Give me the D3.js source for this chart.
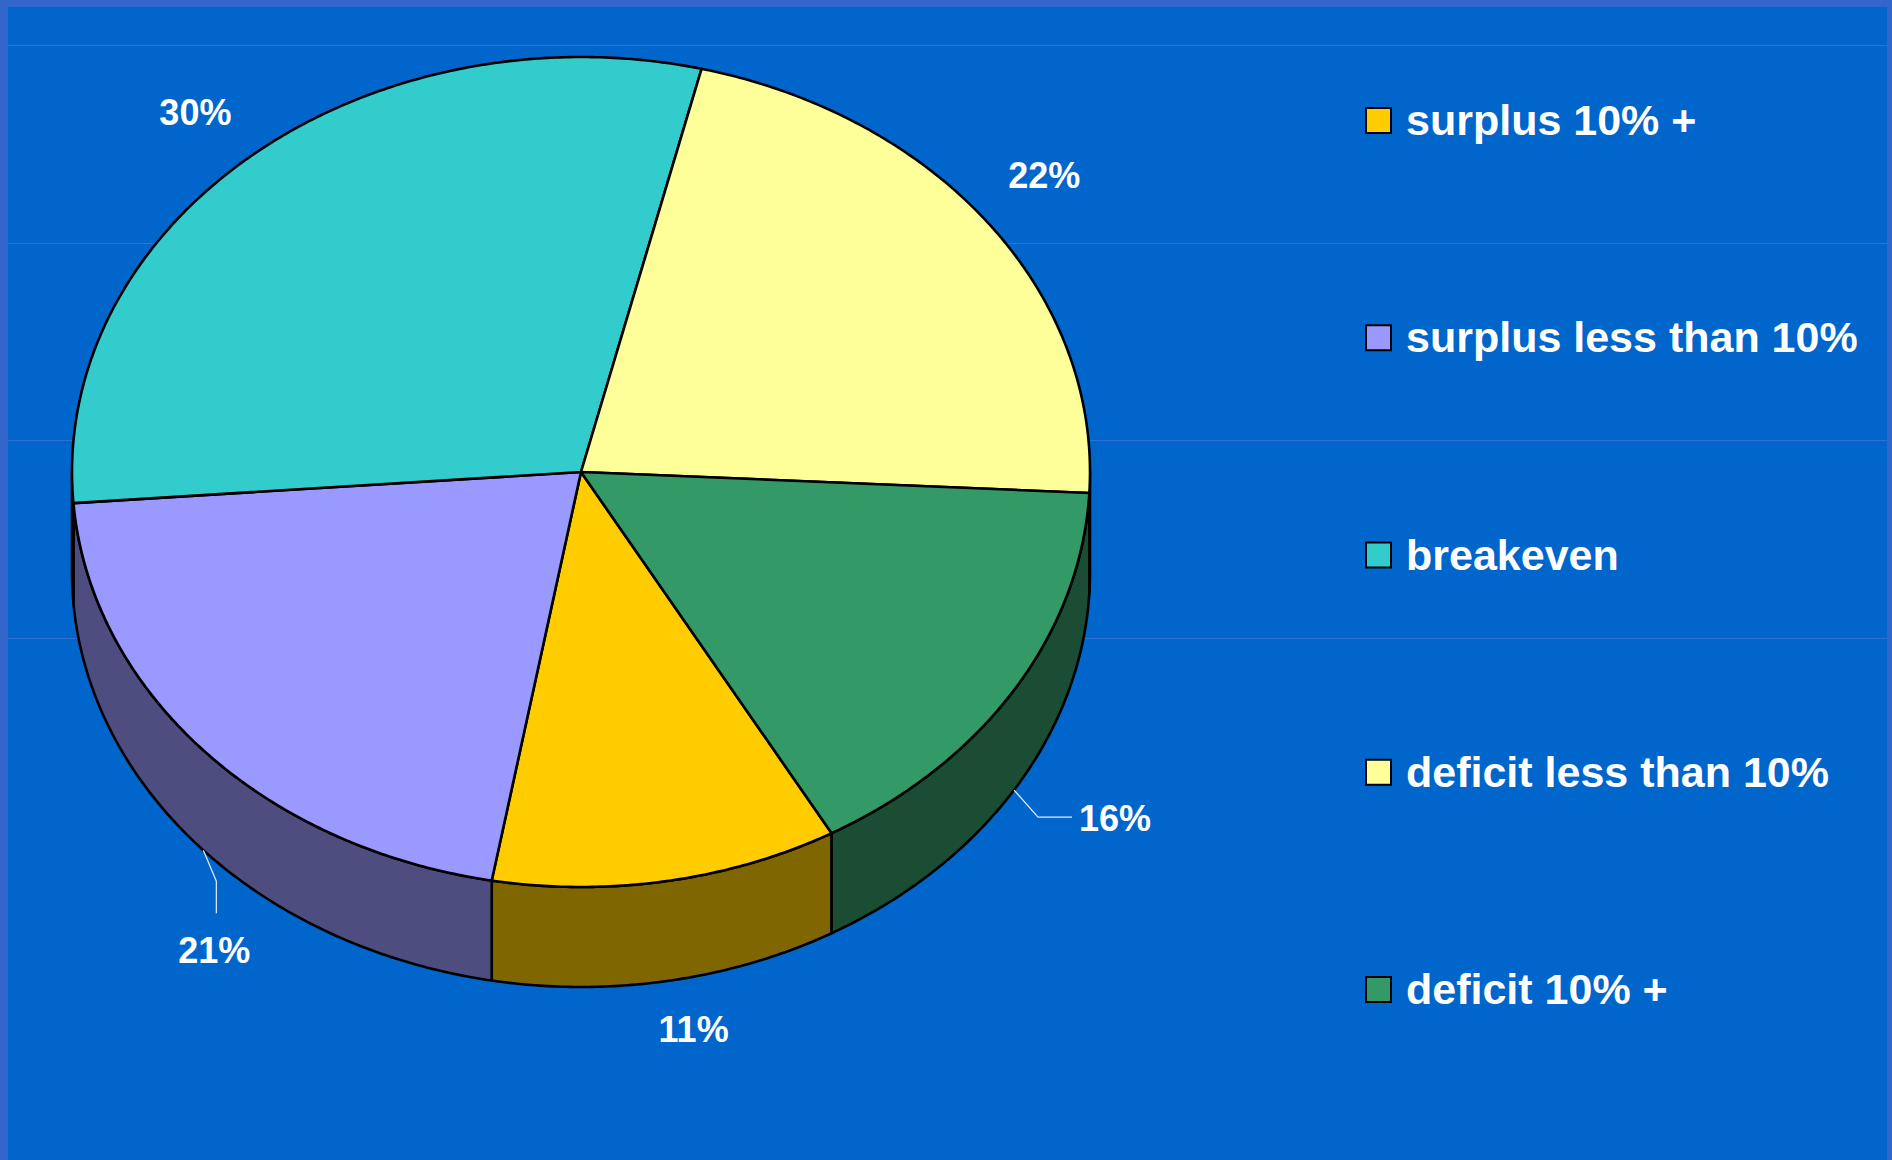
<!DOCTYPE html>
<html>
<head>
<meta charset="utf-8">
<script src="https://cdn.jsdelivr.net/npm/d3@7"></script>
<style>
  html, body { margin: 0; padding: 0; background: #0066CC; }
  svg { display: block; }
</style>
</head>
<body>
<svg id="chart" width="1892" height="1160"></svg>
<script>
// ---- data ----
const categories = ["surplus 10% +", "surplus less than 10%", "breakeven", "deficit less than 10%", "deficit 10% +"];
const shares = [11, 21, 30, 22, 16];
const sliceColors = ["#FFCC00", "#9999FF", "#33CCCC", "#FFFF99", "#339966"];

// ---- layout ----
const W = 1892, H = 1160;
const FONT = "'Liberation Sans', Arial, Helvetica, sans-serif";
const cx = 581, cy = 472, rx = 509, ry = 415, depth = 100;
const startDeg = 150.5;
const labelK = 1.15;
const edgeWidth = 2.6;
// small hand placements for the value labels (pixels)
const labelNudge = [[14, -13], [0, 0], [-7, 4], [-6, -11], [0, 0]];
// labels pulled out with leader lines: elbow offset from rim, then run to the text
const leaders = {
  1: { elbow: [13, 31], run: [0, 32], text: [-2, 37], anchor: "middle" },
  4: { elbow: [24, 27], run: [34, 0], text: [7, 1], anchor: "start" }
};

const svg = d3.select("#chart");

// slide frame and background
svg.append("rect").attr("width", W).attr("height", H).attr("fill", "#3366CC");
svg.append("rect").attr("x", 8).attr("y", 7).attr("width", W - 13).attr("height", H - 7).attr("fill", "#0066CC");

// faint horizontal rules behind the chart
const ruleY = d3.scaleLinear().domain([0, 3]).range([45, 638]);
svg.append("g").selectAll("line").data(d3.range(4)).join("line")
  .attr("x1", 8).attr("x2", W - 5)
  .attr("y1", d => Math.round(ruleY(d)) + 0.5).attr("y2", d => Math.round(ruleY(d)) + 0.5)
  .attr("stroke", "#3270D4").attr("stroke-width", 1);

// ---- pie ----
const start = startDeg * Math.PI / 180;
const pie = d3.pie().sort(null).value(d => d).startAngle(start).endAngle(start + 2 * Math.PI);
const arcs = pie(shares);

const px = a => cx + rx * Math.sin(a);
const py = a => cy - ry * Math.cos(a);
function arcPts(a0, a1, dy = 0) {
  const n = Math.max(2, Math.ceil(Math.abs(a1 - a0) / (Math.PI / 360)));
  return d3.range(n + 1).map(i => {
    const a = a0 + (a1 - a0) * i / n;
    return [px(a), py(a) + dy];
  });
}
const line = d3.line().curve(d3.curveLinear);
const shade = c => { const r = d3.rgb(c); return d3.rgb(r.r * 0.5, r.g * 0.5, r.b * 0.5).formatHex(); };

// side walls: only the front half (90°..270°) faces the viewer
const PI = Math.PI;
const fronts = [[PI / 2, 3 * PI / 2], [5 * PI / 2, 7 * PI / 2]];
const sides = [];
arcs.forEach((d, i) => {
  fronts.forEach(([f0, f1]) => {
    const b0 = Math.max(d.startAngle, f0), b1 = Math.min(d.endAngle, f1);
    if (b1 > b0) sides.push({ i, b0, b1 });
  });
});
const gSide = svg.append("g");
gSide.selectAll("path").data(sides).join("path")
  .attr("d", s => line(arcPts(s.b0, s.b1).concat(arcPts(s.b1, s.b0, depth))) + "Z")
  .attr("fill", s => shade(sliceColors[s.i]))
  .attr("stroke", "#000").attr("stroke-width", edgeWidth).attr("stroke-linejoin", "round");

// top faces
const gTop = svg.append("g");
gTop.selectAll("path").data(arcs).join("path")
  .attr("d", d => line([[cx, cy]].concat(arcPts(d.startAngle, d.endAngle))) + "Z")
  .attr("fill", (d, i) => sliceColors[i])
  .attr("stroke", "#000").attr("stroke-width", edgeWidth).attr("stroke-linejoin", "round");

// ---- value labels ----
const gLab = svg.append("g");
arcs.forEach((d, i) => {
  const mid = (d.startAngle + d.endAngle) / 2;
  const front = Math.cos(mid) < 0;
  const txt = shares[i] + "%";
  if (leaders[i]) {
    const L = leaders[i];
    const s = [px(mid), py(mid) + depth];
    const e = [s[0] + L.elbow[0], s[1] + L.elbow[1]];
    const r = [e[0] + L.run[0], e[1] + L.run[1]];
    gLab.append("path").attr("d", line([s, e, r]))
      .attr("fill", "none").attr("stroke", "#E6ECF8").attr("stroke-width", 1.2);
    gLab.append("text")
      .attr("x", r[0] + L.text[0]).attr("y", r[1] + L.text[1])
      .attr("text-anchor", L.anchor).attr("dominant-baseline", "central")
      .attr("font-family", FONT).attr("font-weight", "bold").attr("font-size", 36)
      .attr("fill", "#fff").text(txt);
  } else {
    const x = cx + rx * labelK * Math.sin(mid) + labelNudge[i][0];
    const y = cy - ry * labelK * Math.cos(mid) + (front ? depth : 0) + labelNudge[i][1];
    gLab.append("text")
      .attr("x", x).attr("y", y)
      .attr("text-anchor", "middle").attr("dominant-baseline", "central")
      .attr("font-family", FONT).attr("font-weight", "bold").attr("font-size", 36)
      .attr("fill", "#fff").text(txt);
  }
});

// ---- legend ----
const rowY = d3.scalePoint().domain(categories).range([121, 990]);
const gLeg = svg.append("g");
const rows = gLeg.selectAll("g").data(categories).join("g")
  .attr("transform", d => `translate(0,${rowY(d)})`);
rows.append("rect")
  .attr("x", 1366).attr("y", -13).attr("width", 25).attr("height", 25)
  .attr("fill", (d, i) => sliceColors[i])
  .attr("stroke", "#000").attr("stroke-width", 2);
rows.append("text")
  .attr("x", 1406).attr("y", 14)
  .attr("font-family", FONT).attr("font-weight", "bold").attr("font-size", 43)
  .attr("fill", "#fff").text(d => d);
</script>
</body>
</html>
